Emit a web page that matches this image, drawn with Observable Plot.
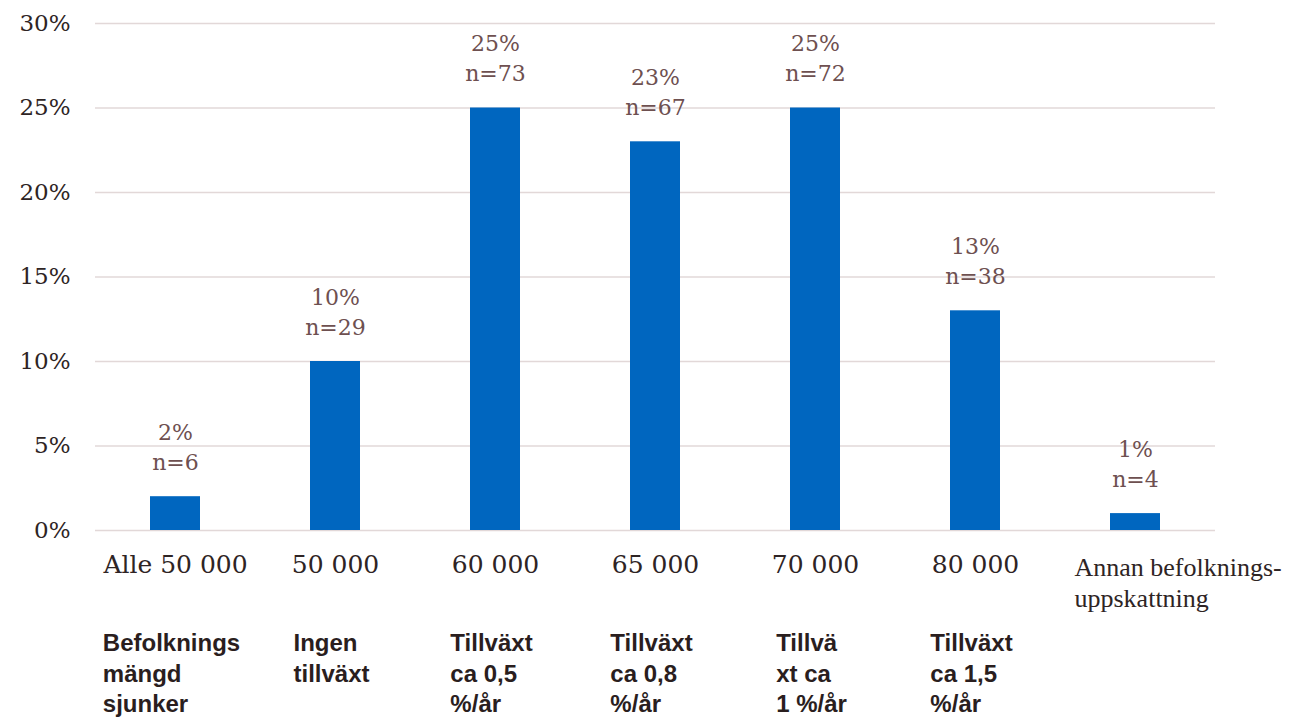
<!DOCTYPE html>
<html><head><meta charset="utf-8">
<script src="https://cdn.jsdelivr.net/npm/d3@7"></script>
<script src="https://cdn.jsdelivr.net/npm/@observablehq/plot@0.6"></script>
<style>body{margin:0;background:#fff}</style>
</head><body><div id="chart"></div>
<script>
const categories = ["Alle 50 000","50 000","60 000","65 000","70 000","80 000","Annan befolknings-\nuppskattning"];
const shares = [2,10,25,23,25,13,1];
const counts = [6,29,73,67,72,38,4];
const growthLabels = ["Befolknings\nmängd\nsjunker","Ingen\ntillväxt","Tillväxt\nca 0,5\n%/år","Tillväxt\nca 0,8\n%/år","Tillvä\nxt ca\n1 %/år","Tillväxt\nca 1,5\n%/år",""];
const yTicks = [0,5,10,15,20,25,30];

const data = categories.map((c,i)=>({category:c, share:shares[i], n:counts[i], growth:growthLabels[i]}));

const boldFont = "bold 24px 'Liberation Sans'";
const ctx = document.createElement("canvas").getContext("2d");
ctx.font = boldFont;
const blockWidth = s => Math.max(0, ...s.split("\n").map(l => ctx.measureText(l).width));

const serif = "'DejaVu Serif', serif";

const chart = Plot.plot({
  width: 1294,
  height: 722,
  marginLeft: 95,
  marginRight: 79,
  marginTop: 23,
  marginBottom: 192,
  style: {background: "#fff"},
  x: {domain: categories, paddingInner: 0.6875, paddingOuter: 0.34375, axis: null},
  y: {domain: [0, 30]},
  marks: [
    Plot.gridY(yTicks, {stroke: "#e2d8d8", strokeOpacity: 1, strokeWidth: 1.5}),
    Plot.axisY(yTicks, {tickSize: 0, tickPadding: 25, tickFormat: d => d + "%", fontSize: 23, fontFamily: serif, fill: "#2e2424", label: null}),
    Plot.barY(data, {x: "category", y: "share", fill: "#0066bf"}),
    Plot.text(data, {x: "category", y: "share", text: d => `${d.share}%\nn=${d.n}`, lineAnchor: "bottom", dy: -27, lineHeight: 1.36, fontSize: 22, fontFamily: serif, fill: "#6e5050"}),
    Plot.text(data.slice(0, 6), {x: "category", text: "category", frameAnchor: "bottom", lineAnchor: "top", dy: 25, fontSize: 25, fontFamily: serif, fill: "#2e2424"}),
    Plot.text(data.slice(6), {x: "category", text: "category", frameAnchor: "bottom", lineAnchor: "top", textAnchor: "start", dx: -61, dy: 24, lineHeight: 1.19, fontSize: 26, fontFamily: "'Liberation Serif', serif", fill: "#2e2424"}),
    ...data.filter(d => d.growth).map(d => Plot.text([d], {x: "category", text: "growth", frameAnchor: "bottom", lineAnchor: "top", textAnchor: "start", dx: -blockWidth(d.growth) / 2 - 4, dy: 99, lineHeight: 1.27, fontSize: 24, fontWeight: "bold", fontFamily: "'Liberation Sans', sans-serif", fill: "#2a1e1e"}))
  ]
});
document.getElementById("chart").appendChild(chart);
</script>
</body></html>
